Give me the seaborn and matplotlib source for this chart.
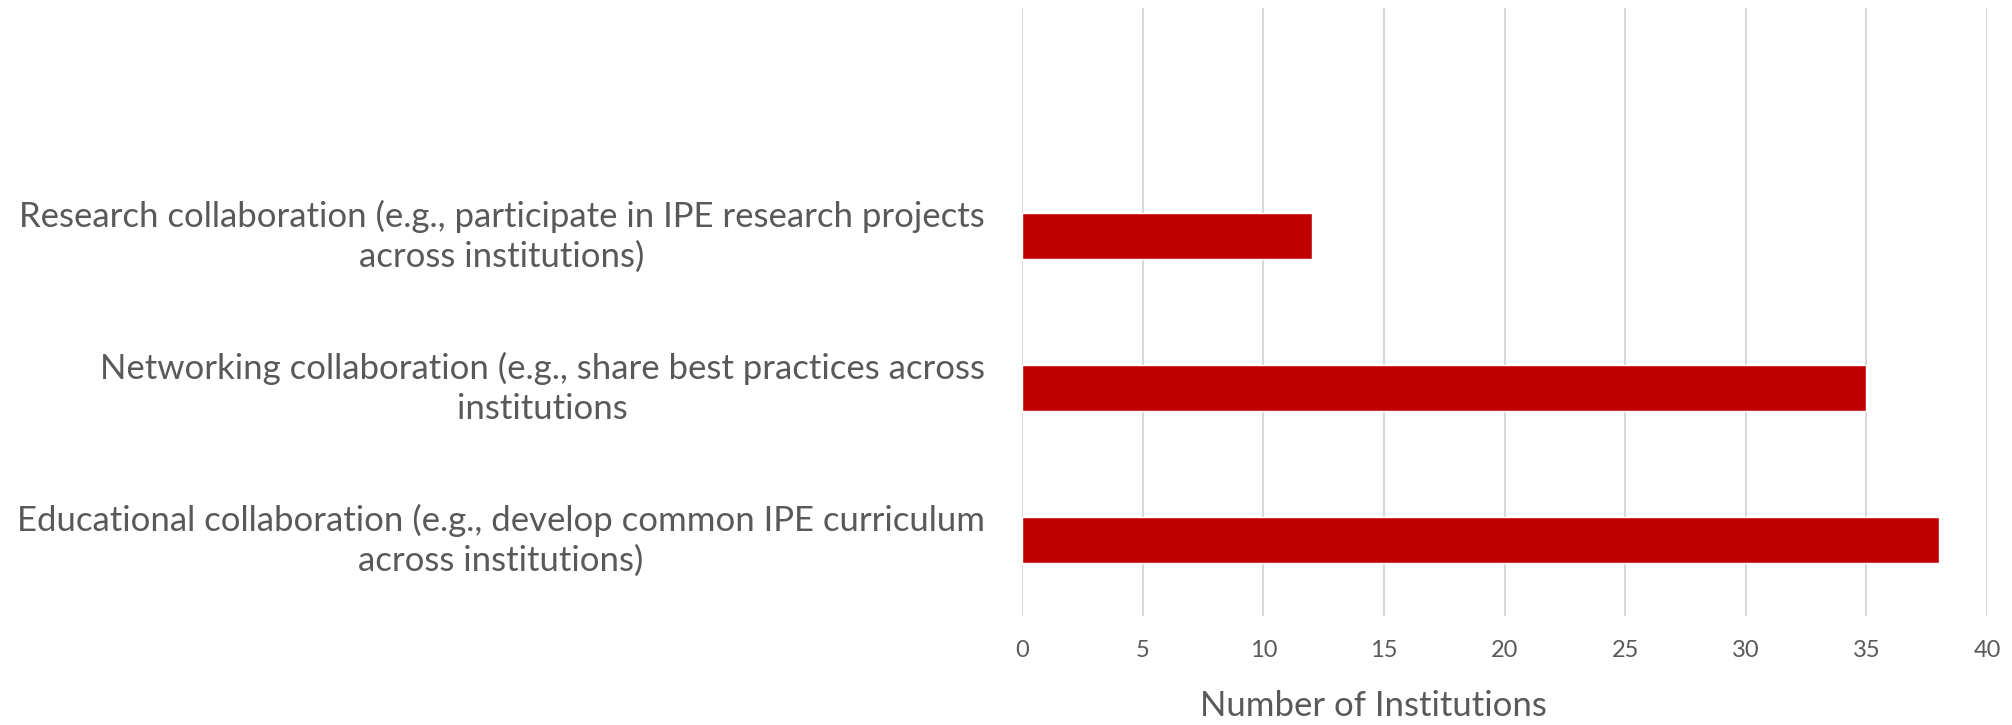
import matplotlib
matplotlib.use("Agg")
import matplotlib.pyplot as plt
import matplotlib.transforms as mtransforms
import seaborn as sns
import pandas as pd

# data
categories = [
    "Research collaboration (e.g., participate in IPE research projects\nacross institutions)",
    "Networking collaboration (e.g., share best practices across\ninstitutions",
    "Educational collaboration (e.g., develop common IPE curriculum\nacross institutions)",
]
counts = [12, 35, 38]
x_ticks = [0, 5, 10, 15, 20, 25, 30, 35, 40]

df = pd.DataFrame({"category": categories, "count": counts})

sns.set_theme(style="white")
plt.rcParams['font.family'] = ['Lato', 'DejaVu Sans']

text_color = '#595959'
fig = plt.figure(figsize=(20.12, 7.25), dpi=100)
ax = fig.add_axes([0.508, 0.150, 0.4796, 0.839])

sns.barplot(data=df, x="count", y="category", order=categories, orient="h",
            color="#C00000", width=0.30, saturation=1, ax=ax, zorder=3)

# empty slot above the first category, like the source chart
ax.set_ylim(2.5, -1.5)
ax.set_xlim(0, 40)
ax.set_xticks(x_ticks)
ax.xaxis.grid(True, color='#D9D9D9', linewidth=1.5, zorder=0)
ax.yaxis.grid(False)
for s in ax.spines.values():
    s.set_visible(False)

ax.tick_params(axis='x', length=0, pad=17, labelsize=17, labelcolor=text_color)
ax.tick_params(axis='y', length=0, pad=27, labelsize=25, labelcolor=text_color)
shift_up = mtransforms.ScaledTranslation(0, 0.07, fig.dpi_scale_trans)
for lbl in ax.get_yticklabels():
    lbl.set_multialignment('center')
    lbl.set_linespacing(1.3)
    lbl.set_transform(lbl.get_transform() + shift_up)

ax.set_ylabel("")
ax.set_xlabel("Number of Institutions", fontsize=25, color=text_color, labelpad=21, x=0.364)

plt.savefig("out.png", dpi=100)
